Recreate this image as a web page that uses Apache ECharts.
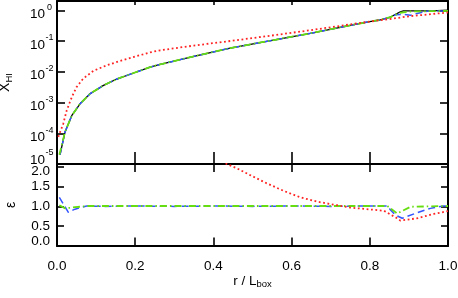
<!DOCTYPE html>
<html><head><meta charset="utf-8">
<script src="https://cdn.jsdelivr.net/npm/echarts@6/dist/echarts.min.js"></script>
<style>html,body{margin:0;padding:0;background:#fff}#c{width:458px;height:298px}</style>
</head><body><div id="c"></div>
<script>
// ---- data ----
const rBlack   = [0.0077,0.0205,0.038,0.059,0.085,0.119,0.153,0.187,0.238,0.264,0.35,0.443,0.55,0.648,0.75,0.80,0.827,0.853,0.866,0.878,0.886,0.92,0.96,0.985,1.0];
const xhiBlack = [2.0e-5,1.1e-4,3.8e-4,9.1e-4,1.95e-3,3.6e-3,5.8e-3,8.3e-3,1.41e-2,1.74e-2,3.16e-2,5.9e-2,0.105,0.178,0.324,0.427,0.49,0.60,0.74,0.89,0.955,0.955,0.955,0.99,1.0];

const rBlue    = [0.0077,0.0205,0.038,0.059,0.085,0.119,0.153,0.187,0.238,0.264,0.35,0.443,0.55,0.648,0.75,0.80,0.827,0.853,0.866,0.885,0.904,0.921,0.947,1.0];
const xhiBlue  = [2.0e-5,1.1e-4,3.8e-4,9.1e-4,1.95e-3,3.6e-3,5.8e-3,8.3e-3,1.41e-2,1.74e-2,3.16e-2,5.9e-2,0.105,0.178,0.324,0.427,0.49,0.60,0.71,0.74,0.69,0.79,0.93,0.955];

const rGreen   = [0.006,0.0205,0.038,0.059,0.085,0.119,0.153,0.187,0.238,0.264,0.35,0.443,0.55,0.648,0.75,0.80,0.827,0.853,0.866,0.878,0.90,0.95,1.0];
const xhiGreen = [2.0e-5,1.1e-4,3.8e-4,9.1e-4,1.95e-3,3.6e-3,5.8e-3,8.3e-3,1.41e-2,1.74e-2,3.16e-2,5.9e-2,0.105,0.178,0.324,0.427,0.49,0.60,0.71,0.83,0.91,0.93,0.95];

const rRed     = [0.0033,0.0077,0.016,0.025,0.038,0.050,0.067,0.093,0.127,0.166,0.195,0.238,0.264,0.35,0.443,0.55,0.648,0.75,0.827,0.86,0.904,0.947,1.0];
const xhiRed   = [7.6e-5,8.5e-5,2.04e-4,5.6e-4,1.51e-3,3.16e-3,6.0e-3,1.07e-2,1.62e-2,2.34e-2,3.0e-2,4.27e-2,5.0e-2,7.1e-2,0.10,0.151,0.224,0.347,0.479,0.537,0.646,0.724,0.851];

const rEpsBlue   = [0.006,0.029,0.046,0.076,0.12,0.2,0.3,0.4,0.5,0.6,0.7,0.8,0.845,0.853,0.866,0.883,0.921,0.955,0.988,1.0];
const epsBlue    = [1.23,0.85,0.93,1.01,1.0,1.01,1.0,1.01,1.0,1.01,1.0,1.01,1.01,0.91,0.78,0.70,0.84,0.95,1.01,1.01];

const rEpsGreen  = [0.006,0.021,0.046,0.08,0.2,0.4,0.6,0.8,0.845,0.87,0.904,1.0];
const epsGreen   = [1.03,0.95,0.98,1.01,1.01,1.01,1.01,1.01,1.01,0.82,0.99,1.01];

const rEpsRed    = [0.36,0.40,0.4346,0.46,0.494,0.537,0.58,0.622,0.665,0.716,0.75,0.836,0.87,0.878,0.921,0.964,1.0];
const epsRed     = [2.42,2.23,2.07,1.96,1.79,1.58,1.39,1.23,1.12,1.03,0.97,0.89,0.70,0.64,0.70,0.81,0.88];

const xTicks = [0.0,0.2,0.4,0.6,0.8,1.0];
const epsTicks = [0.0,0.5,1.0,1.5,2.0];

// ---- chart ----
const FONT = 'Liberation Sans, Arial, Helvetica, sans-serif';
const zip = (a,b) => a.map((v,i)=>[v,b[i]]);
const BLACK = '#000';
const line = (w) => ({show:true, onZero:false, lineStyle:{color:BLACK, width:w}});
const tick = (len) => ({show:true, inside:true, length:len, lineStyle:{color:BLACK, width:1.6}});

function logLabel(v){
  const e = Math.log10(v), k = Math.round(e);
  if (Math.abs(e-k) > 1e-6) return '';
  if (k === -5) return '{b2|10}{s2|' + k + '}';
  return '{b|10}{s|' + k + '}';
}
function epsLabel(v){
  if (Math.abs(v*2 - Math.round(v*2)) > 1e-6) return '';
  const t = v.toFixed(1);
  if (Math.abs(v-2) < 1e-6) return '{top|' + t + '}';
  if (Math.abs(v) < 1e-6) return '{bot|' + t + '}';
  return '{n|' + t + '}';
}

const chart = echarts.init(document.getElementById('c'), null, {renderer:'canvas'});
const option = {
  animation:false,
  backgroundColor:'#fff',
  grid:[
    {left:57, top:1, width:391, height:163, containLabel:false, outerBoundsMode:'none'},
    {left:57, top:164, width:391, height:82, containLabel:false, outerBoundsMode:'none'}
  ],
  xAxis:[
    {gridIndex:0, type:'value', min:0, max:1, interval:0.2, position:'bottom',
     axisLine:line(2), axisTick:tick(12), axisLabel:{show:false}, splitLine:{show:false}},
    {gridIndex:0, type:'value', min:0, max:1, interval:0.2, position:'top',
     axisLine:line(2), axisTick:tick(4), axisLabel:{show:false}, splitLine:{show:false}},
    {gridIndex:1, type:'value', min:0, max:1, interval:0.2, position:'bottom',
     axisLine:line(2), axisTick:tick(8.5), splitLine:{show:false},
     axisLabel:{show:true, margin:13, color:BLACK, fontFamily:FONT, fontSize:13.5, hideOverlap:false,
       formatter:(v)=>v.toFixed(1)},
     name:'{n|r / L}{sub|box}', nameLocation:'middle', nameGap:26,
     nameTextStyle:{color:BLACK, fontFamily:FONT,
       rich:{n:{fontSize:13.5, fontFamily:FONT, color:BLACK},
             sub:{fontSize:9.5, fontFamily:FONT, color:BLACK, padding:[7,0,0,0]}}}},
    {gridIndex:1, type:'value', min:0, max:1, interval:0.2, position:'top',
     axisLine:line(2), axisTick:tick(8), axisLabel:{show:false}, splitLine:{show:false}}
  ],
  yAxis:[
    {gridIndex:0, type:'log', logBase:10, min:1e-5, max:2, splitNumber:5, position:'left',
     axisLine:line(2), axisTick:tick(8), splitLine:{show:false}, minorTick:{show:false},
     axisLabel:{show:true, margin:3, hideOverlap:false, showMinLabel:true, showMaxLabel:true, formatter:logLabel,
       rich:{
         b:{fontSize:13.5, fontFamily:FONT, color:BLACK, lineHeight:14, padding:[8,0,0,0]},
         s:{fontSize:9, fontFamily:FONT, color:BLACK, lineHeight:9, width:9, align:'left', padding:[3.5,0,9.5,0]},
         b2:{fontSize:13.5, fontFamily:FONT, color:BLACK, lineHeight:14, padding:[8,0,16,0]},
         s2:{fontSize:9, fontFamily:FONT, color:BLACK, lineHeight:9, width:9, align:'left', padding:[3.5,0,25.5,0]}
       }},
     name:'{n|X}{sub|HI}', nameLocation:'middle', nameRotate:90, nameGap:43,
     nameTextStyle:{color:BLACK, fontFamily:FONT,
       rich:{n:{fontSize:14, fontFamily:FONT, color:BLACK},
             sub:{fontSize:9.5, fontFamily:FONT, color:BLACK, padding:[8,0,0,0]}}}},
    {gridIndex:0, type:'log', logBase:10, min:1e-5, max:2, splitNumber:5, position:'right',
     axisLine:line(2), axisTick:tick(8), splitLine:{show:false}, axisLabel:{show:false}},
    {gridIndex:1, type:'value', min:0, max:2.07, interval:0.5, position:'left',
     axisLine:line(2), axisTick:tick(7), splitLine:{show:false},
     axisLabel:{show:true, margin:7, hideOverlap:false, showMinLabel:true, showMaxLabel:true, formatter:epsLabel,
       rich:{
         n:{fontSize:13.5, fontFamily:FONT, color:BLACK},
         top:{fontSize:13.5, fontFamily:FONT, color:BLACK, padding:[10,0,0,0]},
         bot:{fontSize:13.5, fontFamily:FONT, color:BLACK, padding:[0,0,10,0]}
       }},
     name:'ε', nameLocation:'middle', nameRotate:90, nameGap:39,
     nameTextStyle:{color:BLACK, fontFamily:FONT, fontSize:14}},
    {gridIndex:1, type:'value', min:0, max:2.07, interval:0.5, position:'right',
     axisLine:line(2), axisTick:tick(7), splitLine:{show:false}, axisLabel:{show:false}}
  ],
  series:[
    {type:'line', xAxisIndex:0, yAxisIndex:0, data:zip(rBlack,xhiBlack), showSymbol:false, clip:true,
     lineStyle:{color:'#000', width:1.3}},
    {type:'line', xAxisIndex:0, yAxisIndex:0, data:zip(rBlue,xhiBlue), showSymbol:false, clip:true,
     lineStyle:{color:'#3355ff', width:1.5, type:[7,4]}},
    {type:'line', xAxisIndex:0, yAxisIndex:0, data:zip(rGreen,xhiGreen), showSymbol:false, clip:true,
     lineStyle:{color:'#66dd11', width:1.8, type:[7,3,1.5,3]}},
    {type:'line', xAxisIndex:0, yAxisIndex:0, data:zip(rRed,xhiRed), showSymbol:false, clip:true,
     lineStyle:{color:'#ff2222', width:1.8, type:[1.8,2.6]}},
    {type:'line', xAxisIndex:2, yAxisIndex:2, data:zip(rEpsBlue,epsBlue), showSymbol:false, clip:true,
     lineStyle:{color:'#3355ff', width:1.5, type:[7,4]}},
    {type:'line', xAxisIndex:2, yAxisIndex:2, data:zip(rEpsGreen,epsGreen), showSymbol:false, clip:true,
     lineStyle:{color:'#66dd11', width:1.8, type:[7,3,1.5,3]}},
    {type:'line', xAxisIndex:2, yAxisIndex:2, data:zip(rEpsRed,epsRed), showSymbol:false, clip:true,
     lineStyle:{color:'#ff2222', width:1.8, type:[1.8,2.6]}}
  ]
};
chart.setOption(option);
</script>
</body></html>
